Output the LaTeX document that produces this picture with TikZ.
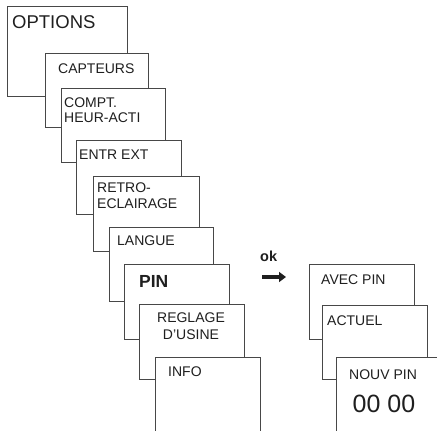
\documentclass[tikz,border=0pt]{standalone}
\usepackage{fontspec}
\setmainfont{Liberation Sans}
\usetikzlibrary{arrows.meta}
\begin{document}
\begin{tikzpicture}[x=1pt,y=-1pt,
  box/.style={draw=black!72,line width=1pt,fill=white},
  lbl/.style={inner sep=0pt,anchor=west,font=\fontsize{14}{16}\selectfont,text=black!88},
  lbl2/.style={lbl,align=left},
]
\clip (0,0) rectangle (437,431);
\fill[white] (0,0) rectangle (437,431);
% left stack
\path[box] (7,6) rectangle (127,96) node[pos=0,inner sep=0] (bopt) {};
\node[lbl,font=\fontsize{18.5}{20}\selectfont] (topt) at (12,22) {OPTIONS};
\path[box] (45,53) rectangle (148,127) node[pos=0,inner sep=0] (bcap) {};
\node[lbl] (tcap) at (58,69) {CAPTEURS};
\path[box] (61,88) rectangle (165,162) node[pos=0,inner sep=0] (bcmp) {};
\node[lbl2,font=\fontsize{14}{15}\selectfont] (tcmp) at (64,110.5) {COMPT.\\HEUR-ACTI};
\path[box] (76,140) rectangle (181,214) node[pos=0,inner sep=0] (bent) {};
\node[lbl] (tent) at (79,155) {ENTR EXT};
\path[box] (93,176) rectangle (199,251) node[pos=0,inner sep=0] (bret) {};
\node[lbl2] (tret) at (97,196) {RETRO-\\ECLAIRAGE};
\path[box] (109,227) rectangle (213,301) node[pos=0,inner sep=0] (blan) {};
\node[lbl] (tlan) at (117,241) {LANGUE};
\path[box] (124,264) rectangle (229,339) node[pos=0,inner sep=0] (bpin) {};
\node[lbl,font=\fontsize{17.5}{19}\selectfont\bfseries] (tpin) at (139,281) {PIN};
\path[box] (139,304) rectangle (244,379) node[pos=0,inner sep=0] (breg) {};
\node[lbl,anchor=center,align=center,font=\fontsize{14}{17}\selectfont] (treg) at (191,326.5) {REGLAGE\\D’USINE};
\path[box] (155,357) rectangle (260,445) node[pos=0,inner sep=0] (binf) {};
\node[lbl] (tinf) at (168,372) {INFO};
% ok arrow
\node[lbl,font=\fontsize{14.5}{16}\selectfont\bfseries] (tok) at (260,256) {ok};
\coordinate (a1) at (262,277);
\coordinate (a2) at (286,277);
\draw[line width=4pt,-{Triangle[length=7pt,width=10pt]},black!88] (a1) -- (a2);
% right stack
\path[box] (309,264) rectangle (414,339) node[pos=0,inner sep=0] (bavc) {};
\node[lbl] (tavc) at (321,280) {AVEC PIN};
\path[box] (322,305) rectangle (427,379) node[pos=0,inner sep=0] (bact) {};
\node[lbl] (tact) at (327,321) {ACTUEL};
\path[box] (336,357) rectangle (442,445) node[pos=0,inner sep=0] (bnou) {};
\node[lbl] (tnou) at (349,375) {NOUV PIN};
\node[lbl,anchor=center,font=\fontsize{25}{27}\selectfont] (tval) at (384,404) {00 00};
\end{tikzpicture}
\end{document}
